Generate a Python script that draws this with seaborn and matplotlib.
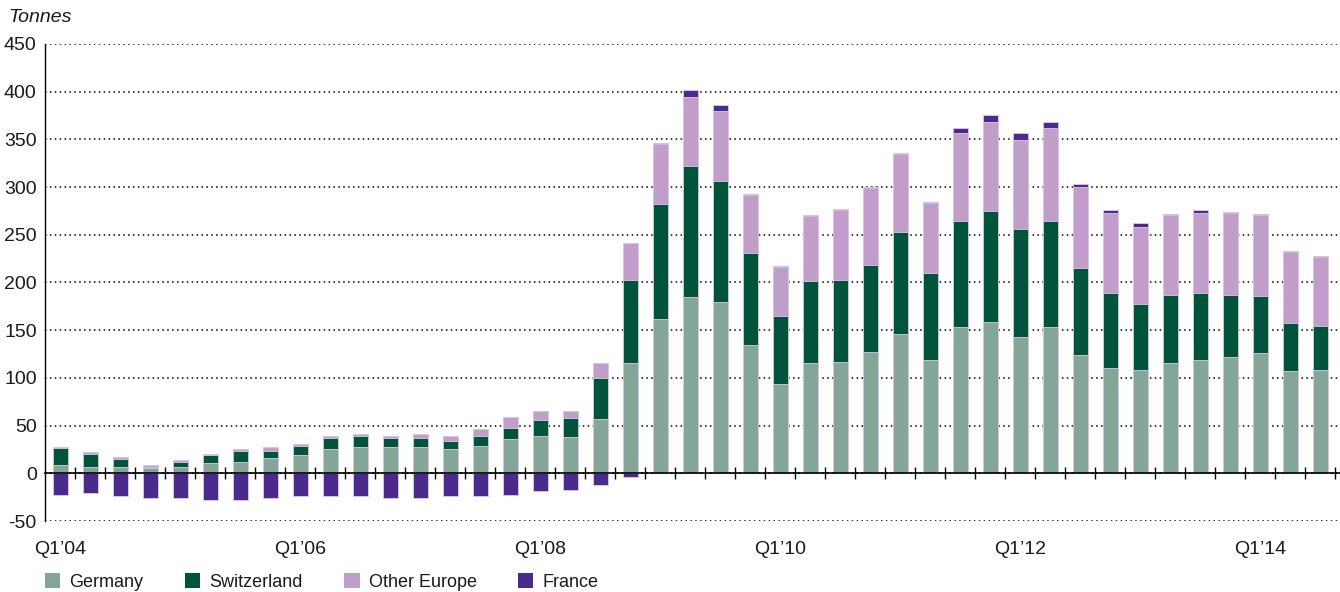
import numpy as np
import pandas as pd
import matplotlib
matplotlib.use("Agg")
import matplotlib.pyplot as plt
import seaborn as sns
from matplotlib.patches import Patch

quarters = [f"Q{q}'{y:02d}" for y in range(4, 15) for q in range(1, 5)][:43]

germany = [9, 7, 7, 5.4, 7, 10.5, 12, 15.6, 19.2, 25.7, 28, 28, 28, 25.5, 29, 36,
           39.5, 38, 57, 115.7, 162, 184.6, 179.4, 134.6, 93.4, 115.7, 117, 127.3,
           146.2, 118.9, 153.5, 158.4, 143, 153.5, 124.1, 110.5, 108.4, 115.4,
           118.9, 122, 125.9, 107, 108.4]
switzerland = [17, 13.6, 8.2, 1.6, 5, 8.3, 11.5, 7.9, 9.8, 11.6, 11.5, 9.3, 9.4, 8.5, 10.2, 11.6,
               16.8, 20.4, 42.7, 87.1, 120.5, 137.4, 127.2, 96.2, 72, 85.7, 85.8, 91.2,
               106.9, 90.9, 111.2, 116.8, 113.3, 111.2, 90.9, 78.7, 68.9, 71.7,
               70.3, 65.1, 59.8, 51, 46.1]
other_europe = [2, 2.2, 1.8, 2, 1.8, 1.8, 2.2, 4, 2, 2.2, 1.8, 2.2, 4, 5.5, 7.3, 11.1,
                9.1, 7, 15.7, 38.5, 62.5, 72.8, 72.8, 60.8, 50.6, 68.2, 73.1, 80.1,
                81.2, 73.1, 92.3, 93.3, 93.4, 97.2, 85, 83.2, 81.4, 83.5,
                83.2, 85.3, 84.9, 73.5, 72.1]
france = [-22.5, -20.6, -24, -25.7, -25.7, -27.5, -27.5, -25.7, -24, -24, -24, -25.7, -25.7,
          -23.8, -23.8, -22.4, -18.9, -17, -12.2, -3.5, 1, 6.6, 7, 1.4, 1, 1, 1.4, 1.4,
          1.4, 1.4, 4.9, 7, 6.9, 6.6, 3.1, 3.1, 3.2, 1.4, 3.1, 1.4, 1.4, 1.4, 1]
series_names = ["Germany", "Switzerland", "Other Europe", "France"]

colors = {"Germany": "#84a698", "Switzerland": "#00543c",
          "Other Europe": "#c09ec9", "France": "#4a2a8a"}

sns.set_theme(style="white")
plt.rcParams["font.family"] = ["Liberation Sans", "DejaVu Sans"]
text_color = "#1a1a1a"

n = len(quarters)
df = pd.DataFrame({"idx": np.arange(n), "quarter": quarters, "Germany": germany,
                   "Switzerland": switzerland, "Other Europe": other_europe,
                   "France": france})
df["c1"] = df["Germany"]
df["c2"] = df["c1"] + df["Switzerland"]
df["c3"] = df["c2"] + df["Other Europe"]
df["c4"] = df["c3"] + df["France"].clip(lower=0)
df["neg"] = df["France"].clip(upper=0)

fig = plt.figure(figsize=(13.4, 5.92), dpi=100)
ax = fig.add_axes([45 / 1340, 1 - 521 / 592, 1 - 45 / 1340, (521 - 44) / 592])

edge = "#dccbe3"
for col, name in [("c4", "France"), ("c3", "Other Europe"), ("c2", "Switzerland"),
                  ("c1", "Germany"), ("neg", "France")]:
    sns.barplot(data=df, x="idx", y=col, color=colors[name], saturation=1,
                width=0.5, errorbar=None, edgecolor=edge, linewidth=0.6, ax=ax,
                zorder=3)

ax.set_ylim(-50, 450)
ax.set_xlim(-0.5, 42.65)
ax.set_yticks(np.arange(-50, 451, 50))
ax.set_yticklabels([str(v) for v in range(-50, 451, 50)], fontsize=14, color=text_color)
ax.grid(axis="y", color="black", linestyle=(0, (1, 2.2)), linewidth=1.1, zorder=0)
ax.grid(axis="x", visible=False)
ax.tick_params(axis="y", length=0, pad=6)

for s in ["top", "right"]:
    ax.spines[s].set_visible(False)
ax.spines["left"].set_color("black")
ax.spines["left"].set_linewidth(1.0)
ax.spines["bottom"].set_position(("data", 0))
ax.spines["bottom"].set_color("black")
ax.spines["bottom"].set_linewidth(1.2)
ax.spines["bottom"].set_zorder(4)

major = list(range(0, n, 8))
ax.set_xticks(major)
ax.set_xticklabels([quarters[i].replace("'", "\u2019") for i in major],
                   fontsize=14, color=text_color)
ax.set_xticks(np.arange(0.5, n, 1), minor=True)
ax.tick_params(axis="x", which="major", length=0, pad=49)
ax.tick_params(axis="x", which="minor", length=9, width=1.0, direction="inout",
               color="black", bottom=True)
ax.set_xlabel("")
ax.set_ylabel("")

fig.text(8 / 1340, 1 - 17 / 592, "Tonnes", fontsize=14, style="italic",
         color=text_color, va="center", ha="left")

handles = [Patch(facecolor=colors[s], edgecolor="none", label=s) for s in series_names]
leg = fig.legend(handles=handles, loc="center left", bbox_to_anchor=(45 / 1340, 1 - 582 / 592),
                 ncol=4, frameon=False, fontsize=13, handlelength=0.85, handleheight=0.85,
                 handletextpad=0.5, columnspacing=2.3, labelcolor=text_color,
                 borderpad=0, borderaxespad=0)

fig.savefig("out.png", dpi=100)
